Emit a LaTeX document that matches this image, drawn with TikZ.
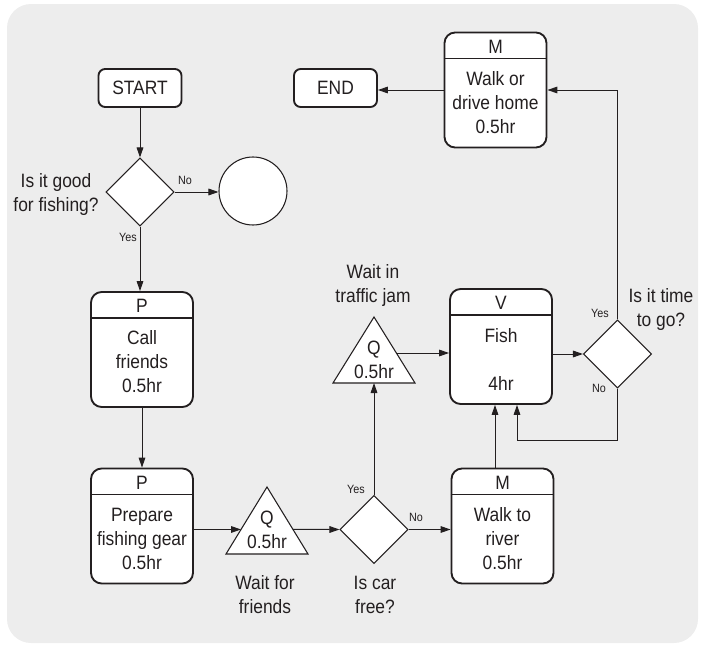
\documentclass[tikz,border=0pt]{standalone}
\usepackage{fontspec}
\setmainfont{Liberation Sans}[FakeStretch=0.9]
\usetikzlibrary{shapes.geometric,arrows.meta,calc}
\definecolor{panel}{HTML}{EDEDED}
\definecolor{ink}{HTML}{231F20}

\tikzset{
  txt/.style={font=\fontsize{14.5pt}{18pt}\selectfont, align=center, inner sep=0pt, text=ink},
  tiny/.style={font=\fontsize{9pt}{10pt}\selectfont, inner sep=0pt, text=ink},
  term/.style={draw=ink, line width=1.4pt, rounded corners=5pt, fill=white,
    minimum width=62.25pt, minimum height=28.5pt, inner sep=0pt, txt},
  proc/.style={draw=ink, line width=1.4pt, rounded corners=8pt, fill=white,
    minimum width=76.5pt, minimum height=86.25pt, inner sep=0pt},
  split/.style={draw=ink, line width=1pt},
  dec/.style={diamond, draw=ink, line width=0.8pt, fill=white,
    minimum width=51pt, minimum height=51pt, inner sep=0pt},
  blob/.style={circle, draw=ink, line width=0.8pt, fill=white,
    minimum size=51pt, inner sep=0pt},
  wait/.style={draw=ink, line width=0.8pt, fill=white, line join=miter},
  arr/.style={draw=ink, line width=0.75pt, -{Triangle[length=7.5pt,width=5pt]}},
}

% process box: name, centre, header letter, body text
\newcommand{\procbox}[4]{%
  \node[proc] (#1) at #2 {};
  \draw[split] ($(#1.north west)+(0,27)$) -- ($(#1.north east)+(0,27)$);
  \node[txt] (#1-head) at ($(#1.north)+(0,15)$) {#3};
  \node[txt] (#1-body) at ($(#1.north)+(0,71)$) {#4};
}

\begin{document}
\begin{tikzpicture}[x=0.75pt,y=-0.75pt]
\useasboundingbox (0,0) rectangle (701,646);
\fill[panel, rounded corners=18pt] (7,4) rectangle (698,643);

% terminals
\node[term] (start) at (140,88) {START};
\node[term] (endb) at (335.5,88) {END};

% first decision and the stop circle
\node[dec] (d1) at (140,192) {};
\node[blob] (stop) at (253,191) {};
\node[txt] (q1) at (56,195) {Is it good\\for fishing?};
\node[tiny] (d1no) at (185,180) {No};
\node[tiny] (d1yes) at (128,237) {Yes};

% process boxes
\procbox{callb}{(142,349.5)}{P}{Call\\friends\\0.5hr}
\procbox{prepb}{(142,526)}{P}{Prepare\\fishing gear\\0.5hr}
\procbox{fishb}{(501,346.5)}{V}{Fish\\[18pt]4hr}
\procbox{walkb}{(502.5,526)}{M}{Walk to\\river\\0.5hr}
\procbox{homeb}{(495.5,90)}{M}{Walk or\\drive home\\0.5hr}

% queue triangle: wait for friends
\coordinate (t1a) at (267,487);
\coordinate (t1l) at (226,554);
\coordinate (t1r) at (308,554);
\draw[wait] (t1a) -- (t1l) -- (t1r) -- cycle;
\node[txt] (t1) at ($(t1a)+(0,43)$) {Q\\0.5hr};
\node[txt] (t1cap) at (265,595) {Wait for\\friends};
\coordinate (t1in) at ($(t1l)!0.366!(t1a)$);
\coordinate (t1out) at ($(t1r)!0.366!(t1a)$);

% car decision
\node[dec] (d2) at (374,529.5) {};
\node[txt] (q2) at (375,595) {Is car\\free?};
\node[tiny] (d2yes) at (356,489) {Yes};
\node[tiny] (d2no) at (416,517) {No};

% queue triangle: traffic jam
\coordinate (t2a) at (374,317);
\coordinate (t2l) at (333,383);
\coordinate (t2r) at (415,383);
\draw[wait] (t2a) -- (t2l) -- (t2r) -- cycle;
\node[txt] (t2) at ($(t2a)+(0,43)$) {Q\\0.5hr};
\node[txt] (t2cap) at (373,285) {Wait in\\traffic jam};
\coordinate (t2base) at ($(t2l)!0.5!(t2r)$);
\coordinate (t2out) at ($(t2r)!0.4545!(t2a)$);

% time decision
\node[dec] (d3) at (617.5,354) {};
\node[txt] (q3) at (661,309) {Is it time\\to go?};
\node[tiny] (d3yes) at (600,313) {Yes};
\node[tiny] (d3no) at (599,388) {No};

% connectors
\draw[arr] (start.south) -- (d1.north);
\draw[arr] (d1.east) -- (d1.east -| stop.west);
\draw[arr] (d1.south) -- (d1.south |- callb.north);
\draw[arr] (callb.south) -- (callb.south |- prepb.north);
\draw[arr] (prepb.east |- t1in) -- (t1in);
\draw[arr] (t1out) -- (d2.west);
\draw[arr] (d2.north) -- (t2base);
\draw[arr] (d2.east) -- (d2.east -| walkb.west);
\draw[arr] (t2out) -- (t2out -| fishb.west);
\draw[arr] ([xshift=-4.5pt]fishb.south |- walkb.north) -- ([xshift=-4.5pt]fishb.south);
\draw[arr] (fishb.east |- d3) -- (d3.west);
\draw[arr] (d3.south) -- ++(0,52) -| ([xshift=12pt]fishb.south);
\draw[arr] (d3.north) |- (homeb.east);
\draw[arr] (homeb.west) -- (homeb.west -| endb.east);
\end{tikzpicture}
\end{document}
